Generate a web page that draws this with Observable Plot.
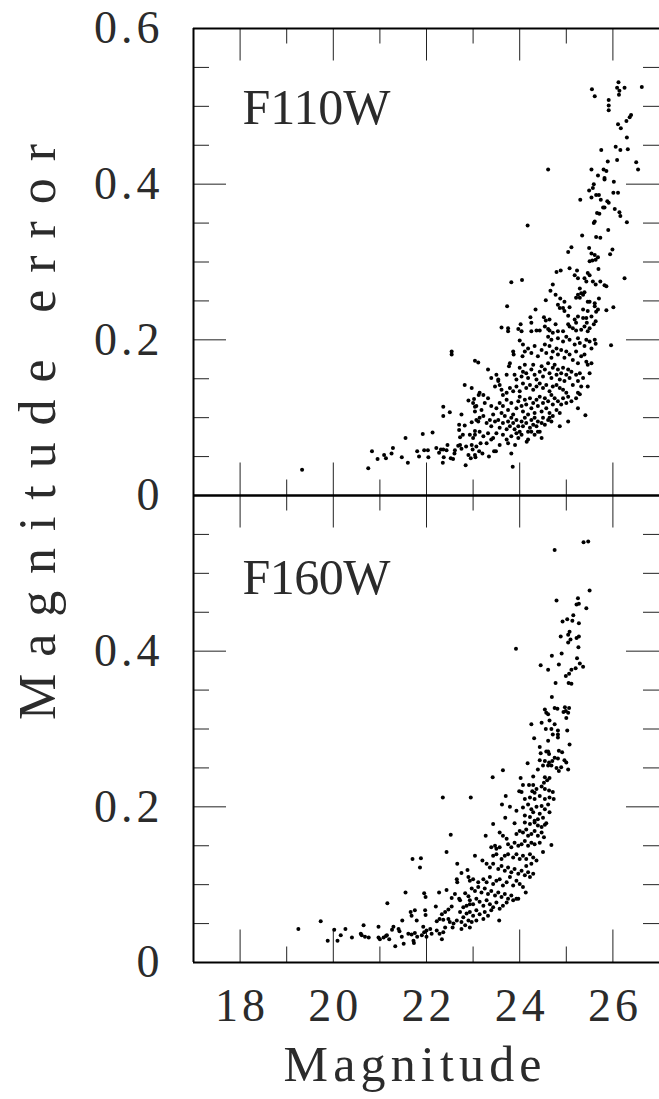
<!DOCTYPE html>
<html><head><meta charset="utf-8">
<script src="https://cdn.jsdelivr.net/npm/d3@7"></script>
<script src="https://cdn.jsdelivr.net/npm/@observablehq/plot@0.6"></script>
<style>
html,body{margin:0;padding:0;background:#fff;overflow:hidden}
svg text{letter-spacing:4px}
</style></head><body><div id="chart"></div>
<script>
const panels = ["F110W", "F160W"];
const xMajorTicks = [18, 20, 22, 24, 26];
const xMinorTicks = [19, 21, 23, 25];
const yMajorTicks = [0.2, 0.4];
const yMinorTicks = [0.05, 0.1, 0.15, 0.25, 0.3, 0.35, 0.45, 0.5, 0.55];
const xTickLabels = [18, 20, 22, 24, 26];
const yLabelsTop = [0.6, 0.4, 0.2, 0];
const yLabelsBottom = [0.4, 0.2, 0];

// F110W: [magnitude, magnitude error]
const f110w = [
[19.33,0.033],[20.75,0.035],[20.83,0.057],[20.95,0.047],[21.09,0.052],[21.13,0.048],[21.28,0.061],[21.25,0.054],[21.47,0.049],[21.55,0.074],[21.60,0.042],[21.80,0.057],[21.84,0.050],[21.95,0.058],[22.03,0.058],[22.04,0.049],[21.92,0.079],[22.13,0.081],[22.54,0.185],[22.54,0.181],[22.36,0.114],[22.36,0.102],[22.50,0.107],[22.70,0.091],[22.70,0.084],[22.75,0.104],[22.82,0.090],[22.72,0.075],[22.78,0.078],[23.04,0.173],[23.11,0.171],[22.82,0.142],[22.97,0.138],[22.90,0.122],[23.02,0.124],[23.04,0.114],[23.04,0.108],[22.97,0.094],[23.04,0.083],[23.04,0.078],[23.11,0.095],[23.12,0.129],
[22.21,0.061],[22.27,0.055],[22.35,0.042],[22.37,0.049],[22.31,0.059],[22.36,0.059],[22.43,0.058],[22.45,0.065],[22.52,0.048],[22.57,0.047],[22.60,0.054],[22.61,0.058],[22.68,0.064],[22.72,0.065],[22.75,0.060],[22.84,0.039],[22.85,0.063],[22.90,0.052],[22.95,0.048],[22.97,0.065],[22.99,0.059],[23.04,0.052],[23.05,0.049],[23.07,0.063],[23.13,0.057],[23.16,0.067],[23.20,0.054],[23.29,0.067],[23.34,0.050],[23.45,0.057],[23.49,0.057],[23.57,0.065],[23.75,0.067],[23.82,0.054],[23.85,0.037],[23.90,0.065],[24.15,0.069],
[24.61,0.204],[24.68,0.200],[24.82,0.202],[24.93,0.198],[25.00,0.204],[25.07,0.200],[25.18,0.194],[25.25,0.202],[25.29,0.196],[25.39,0.192],[25.43,0.200],[25.50,0.198],[25.54,0.189],[25.61,0.200],[25.63,0.195],[25.96,0.193],
[24.00,0.199],[24.07,0.194],[23.86,0.185],[23.87,0.181],[24.11,0.185],[24.06,0.179],[24.18,0.189],[24.25,0.183],[24.32,0.192],[24.39,0.179],[24.47,0.187],[24.54,0.194],[24.57,0.183],[24.64,0.192],[24.68,0.177],[24.71,0.185],[24.79,0.189],[24.82,0.181],[24.89,0.187],[24.96,0.177],[25.00,0.185],[25.07,0.181],[25.14,0.174],[25.21,0.185],[25.25,0.170],[25.32,0.179],[25.39,0.181],[25.43,0.172],[25.46,0.168],[25.54,0.170],[25.50,0.157],
[23.32,0.162],[23.39,0.151],[23.50,0.155],[23.54,0.149],[23.72,0.155],[23.77,0.166],[23.79,0.170],[23.89,0.155],[23.93,0.149],[24.00,0.164],[24.04,0.153],[24.07,0.159],[24.11,0.168],[24.14,0.157],[24.18,0.151],[24.25,0.162],[24.29,0.168],[24.32,0.155],[24.36,0.149],[24.43,0.159],[24.47,0.166],[24.50,0.153],[24.54,0.162],[24.61,0.170],[24.64,0.157],[24.68,0.151],[24.71,0.164],[24.75,0.168],[24.79,0.155],[24.82,0.162],[24.86,0.149],[24.89,0.157],[24.93,0.164],[24.96,0.147],[25.00,0.155],[25.04,0.162],[25.07,0.151],[25.11,0.159],[25.14,0.142],[25.21,0.155],[25.25,0.147],[25.29,0.157],[25.32,0.140],[25.36,0.151],
[25.46,0.140],[25.29,0.130],[25.25,0.132],[25.21,0.125],[25.11,0.121],[25.00,0.132],[25.04,0.127],[24.93,0.136],[24.86,0.138],[24.79,0.142],[24.71,0.140],[24.64,0.134],[24.57,0.142],[24.50,0.138],[24.43,0.144],[24.36,0.140],[24.29,0.136],[24.22,0.142],[24.14,0.138],[24.07,0.144],[24.00,0.134],[23.93,0.140],[23.86,0.134],[23.79,0.138],[23.72,0.132],[23.64,0.129],[23.61,0.136],[23.57,0.142],[23.54,0.147],[23.47,0.140],
[23.14,0.132],[23.22,0.129],[23.00,0.119],[23.07,0.115],[23.18,0.110],[23.25,0.119],[23.32,0.125],[23.39,0.115],[23.43,0.104],[23.50,0.112],[23.57,0.119],[23.61,0.106],[23.64,0.115],[23.72,0.123],[23.75,0.110],[23.82,0.119],[23.86,0.104],[23.93,0.112],[23.97,0.121],[24.00,0.127],[24.04,0.115],[24.07,0.108],[24.11,0.123],[24.14,0.117],[24.18,0.104],[24.22,0.125],[24.25,0.112],[24.29,0.119],[24.32,0.106],[24.36,0.123],[24.39,0.115],[24.43,0.127],[24.47,0.108],[24.50,0.119],[24.54,0.125],[24.57,0.112],[24.61,0.121],[24.64,0.106],[24.68,0.129],[24.71,0.117],[24.75,0.125],[24.79,0.110],[24.82,0.121],[24.86,0.106],[24.89,0.117],[24.93,0.125],[25.00,0.119],[25.25,0.112],[25.41,0.103],
[23.07,0.097],[23.14,0.100],[23.22,0.102],[23.29,0.093],[23.36,0.097],[23.39,0.089],[23.47,0.095],[23.54,0.097],[23.57,0.087],[23.64,0.093],[23.68,0.102],[23.72,0.085],[23.75,0.095],[23.79,0.089],[23.82,0.100],[23.86,0.093],[23.89,0.085],[23.93,0.097],[23.97,0.089],[24.00,0.082],[24.04,0.095],[24.07,0.089],[24.11,0.100],[24.14,0.093],[24.18,0.082],[24.22,0.087],[24.25,0.097],[24.29,0.091],[24.32,0.100],[24.36,0.089],[24.39,0.095],[24.43,0.082],[24.47,0.093],[24.50,0.100],[24.54,0.091],[24.61,0.097],[24.64,0.100],[24.68,0.095],[24.71,0.102],[24.86,0.089],[25.04,0.095],
[22.93,0.078],[23.00,0.074],[23.14,0.082],[23.22,0.076],[23.32,0.080],[23.39,0.072],[23.43,0.074],[23.50,0.080],[23.64,0.078],[23.72,0.072],[23.82,0.076],[23.93,0.080],[23.97,0.074],[24.04,0.078],[24.18,0.072],[24.25,0.082],[24.32,0.078],[24.39,0.082],[24.47,0.074],
[25.30,0.380],[25.54,0.383],[25.64,0.386],[25.70,0.386],[25.74,0.380],[25.88,0.378],[25.91,0.376],[26.01,0.389],[26.11,0.389],[25.79,0.370],[25.82,0.370],[26.04,0.368],[26.14,0.364],[26.16,0.359],[25.66,0.363],[25.71,0.362],[26.30,0.351],[25.59,0.350],[25.61,0.352],[24.17,0.347],[25.90,0.341],[25.34,0.334],[25.64,0.332],[25.73,0.331],[25.04,0.313],[25.11,0.319],[25.49,0.318],[25.54,0.311],[25.61,0.309],[25.68,0.306],[25.50,0.301],[25.56,0.302],[25.63,0.303],[25.94,0.310],[25.99,0.316],[25.07,0.292],[24.79,0.287],[24.88,0.289],[25.23,0.289],[25.46,0.286],[25.50,0.283],[25.69,0.291],[25.18,0.283],[25.25,0.279],[25.39,0.279],[25.43,0.275],[23.82,0.274],[24.05,0.277],[24.71,0.271],[25.57,0.275],[25.63,0.271],[25.73,0.275],[25.82,0.270],[25.86,0.269],[26.25,0.279],[24.66,0.263],[25.29,0.266],[25.32,0.260],[25.25,0.258],[25.36,0.258],[25.29,0.254],[25.21,0.254],[25.39,0.261],[24.77,0.258],[24.87,0.253],[24.96,0.249],[24.56,0.251],[25.46,0.249],[25.50,0.249],[25.61,0.247],[25.70,0.253],[23.73,0.243],[24.82,0.245],[24.86,0.241],[25.07,0.242],[24.34,0.239],[25.36,0.239],[25.46,0.237],[25.61,0.243],[25.68,0.239],[25.64,0.236],[25.86,0.238],[26.01,0.242],[24.96,0.237],[24.93,0.241],[25.04,0.231],[24.23,0.229],[24.25,0.222],[24.02,0.220],[24.52,0.229],[24.56,0.225],[24.64,0.226],[24.77,0.220],[25.04,0.220],[25.07,0.217],[25.18,0.226],[25.25,0.230],[25.21,0.222],[25.36,0.228],[25.43,0.228],[25.44,0.222],[25.54,0.230],[25.59,0.220],[25.63,0.224],[25.50,0.215],[25.46,0.211],[23.61,0.216],[23.75,0.215],[23.75,0.211],[23.97,0.214],[24.04,0.211],[24.25,0.211],[24.36,0.212],[24.43,0.212],[24.54,0.217],[24.61,0.214],[24.64,0.212],[24.71,0.209],[24.82,0.211],[24.93,0.211],[25.14,0.215],[25.21,0.212],[25.32,0.213],[25.39,0.217],
[26.12,0.531],[26.09,0.524],[26.14,0.520],[26.25,0.524],[26.13,0.515],[26.62,0.525],[25.55,0.522],[25.61,0.513],[25.91,0.508],[25.91,0.501],[25.91,0.495],[26.39,0.489],[26.36,0.486],[26.29,0.481],[26.11,0.477],[26.17,0.472],[26.30,0.460],[25.75,0.444],[26.06,0.448],[26.16,0.444],[26.32,0.445],[25.89,0.429],[26.09,0.431],[26.50,0.428],[26.54,0.419],[24.61,0.419],[25.54,0.419],[25.80,0.419],[25.86,0.417],[25.68,0.411],[25.82,0.408],[25.82,0.406],[26.02,0.403],[25.59,0.400],[25.57,0.395],[25.49,0.392]
];

// F160W: [magnitude, magnitude error]
const f160w = [
[22.52,0.164],[22.43,0.142],[21.70,0.133],[21.88,0.134],[21.86,0.122],[22.66,0.127],[22.88,0.119],[22.75,0.115],[22.65,0.107],[22.66,0.103],[22.90,0.110],[21.55,0.090],[21.95,0.089],[21.98,0.084],[22.27,0.090],[22.43,0.093],[22.54,0.083],[22.61,0.088],[22.72,0.080],[22.70,0.082],[22.83,0.089],[22.90,0.085],[21.16,0.076],[22.20,0.072],[22.54,0.072],[22.47,0.068],[22.40,0.065],[22.79,0.071],[22.86,0.073],[22.93,0.075],[22.72,0.065],[22.79,0.058],[22.86,0.063],[21.66,0.065],[21.75,0.067],[21.68,0.060],[21.97,0.067],[21.98,0.061],[21.79,0.054],[21.48,0.054],[22.33,0.062],[22.28,0.056],[22.22,0.053],[22.36,0.055],[22.47,0.056],[22.50,0.052],[22.58,0.050],[22.65,0.054],[22.56,0.045],[22.75,0.052],[22.83,0.048],[22.90,0.054],[22.75,0.043],[22.93,0.045],[20.65,0.048],[20.97,0.046],[21.29,0.046],[21.26,0.042],[21.40,0.043],[21.42,0.040],[21.93,0.046],[21.95,0.039],[22.00,0.041],[22.08,0.043],[22.22,0.041],[22.28,0.037],[22.36,0.039],[22.40,0.045],[21.61,0.037],[21.68,0.036],[21.75,0.038],[21.80,0.033],[21.72,0.028],[21.73,0.025],[21.47,0.033],[21.51,0.024],[21.33,0.021],[21.15,0.035],[21.08,0.032],[21.00,0.030],[20.97,0.032],[21.20,0.030],[21.13,0.034],[20.59,0.037],[20.61,0.035],[20.68,0.033],[20.76,0.032],[20.40,0.032],[20.26,0.043],[20.16,0.035],[20.09,0.028],[20.02,0.042],[19.88,0.028],[19.73,0.053],[19.25,0.043],[22.00,0.033],[21.90,0.035],[22.11,0.037],[22.33,0.030],
[23.43,0.178],[23.89,0.179],[24.11,0.180],[24.22,0.178],[24.32,0.180],[24.39,0.176],[24.47,0.174],[24.54,0.177],[24.57,0.179],[23.27,0.163],[23.57,0.167],[23.64,0.163],[23.72,0.159],[23.93,0.165],[24.00,0.169],[24.07,0.167],[24.14,0.171],[24.18,0.163],[24.25,0.165],[24.32,0.169],[24.39,0.163],[24.47,0.167],[24.52,0.161],[24.68,0.151],[23.39,0.148],[23.47,0.150],[23.50,0.146],[23.57,0.148],[23.75,0.152],[23.82,0.148],[23.89,0.154],[23.97,0.150],[24.04,0.152],[24.11,0.156],[24.18,0.150],[24.25,0.154],[24.32,0.152],[24.43,0.154],[24.50,0.142],[23.04,0.137],[23.43,0.137],[23.50,0.139],[23.61,0.133],[23.68,0.137],[23.75,0.139],[23.86,0.135],[23.93,0.139],[24.00,0.133],[24.07,0.137],[24.14,0.133],[24.22,0.139],[24.29,0.135],[24.36,0.131],[24.25,0.127],[24.14,0.124],[23.20,0.131],[23.29,0.127],[23.36,0.122],[23.43,0.127],[23.54,0.120],[23.61,0.124],[23.68,0.118],[23.75,0.122],[23.82,0.116],[23.89,0.120],[23.97,0.114],[24.04,0.118],[24.11,0.112],[24.18,0.116],[24.22,0.110],[24.29,0.114],[22.93,0.105],[23.00,0.107],[23.11,0.103],[23.22,0.107],[23.29,0.103],[23.36,0.110],[23.43,0.101],[23.50,0.105],[23.57,0.107],[23.64,0.099],[23.72,0.103],[23.79,0.110],[23.86,0.099],[23.93,0.105],[24.00,0.101],[24.07,0.097],[24.13,0.090],[23.97,0.082],[23.93,0.082],[22.97,0.095],[23.04,0.092],[23.11,0.097],[23.18,0.090],[23.25,0.095],[23.32,0.088],[23.39,0.092],[23.47,0.086],[23.54,0.090],[23.61,0.084],[23.68,0.088],[23.75,0.082],[23.82,0.086],[23.86,0.080],[23.72,0.077],[22.93,0.080],[23.00,0.075],[23.07,0.082],[23.14,0.078],[23.22,0.073],[23.29,0.080],[23.36,0.075],[23.43,0.071],[23.50,0.077],[23.57,0.069],[23.64,0.073],[23.39,0.067],[22.93,0.065],[23.00,0.060],[23.07,0.067],[23.14,0.062],[23.25,0.065],[23.32,0.060],[23.22,0.056],[23.07,0.054],[22.97,0.052],[23.56,0.054],
[24.77,0.359],[25.05,0.359],[25.11,0.358],[24.69,0.341],[24.75,0.327],[24.81,0.326],[24.97,0.328],[25.06,0.327],[24.99,0.323],[24.94,0.322],[25.04,0.321],[24.54,0.325],[24.57,0.321],[24.61,0.319],[24.47,0.308],[24.25,0.306],[24.64,0.311],[24.75,0.306],[24.68,0.300],[24.82,0.298],[24.82,0.293],[24.71,0.293],[24.82,0.289],[24.56,0.300],[25.02,0.298],[25.00,0.314],[24.31,0.288],[24.61,0.285],[25.07,0.280],[24.43,0.277],[24.45,0.269],[24.57,0.271],[24.63,0.268],[24.61,0.271],[24.84,0.272],[24.91,0.270],[24.43,0.260],[24.54,0.259],[24.63,0.257],[24.70,0.259],[24.75,0.263],[24.82,0.262],[24.96,0.260],[25.00,0.257],[24.50,0.253],[24.61,0.253],[24.68,0.253],[24.79,0.250],[24.84,0.246],[24.89,0.251],[25.04,0.248],[24.17,0.256],[24.39,0.248],[23.64,0.247],[23.42,0.238],[24.02,0.237],[24.29,0.239],[24.54,0.238],[24.59,0.234],[24.64,0.237],[24.52,0.231],[24.07,0.228],[24.20,0.228],[24.29,0.228],[24.36,0.223],[24.47,0.226],[24.54,0.223],[24.63,0.221],[24.71,0.219],[23.99,0.220],[24.27,0.220],[24.32,0.218],[24.04,0.219],[24.11,0.210],[24.22,0.212],[24.32,0.210],[24.43,0.214],[24.54,0.210],[24.64,0.212],[24.73,0.210],[23.70,0.214],[22.95,0.212],[22.35,0.212],[23.62,0.203],[23.79,0.200],[23.93,0.195],[24.07,0.199],[24.18,0.203],[24.25,0.197],[24.36,0.200],[24.47,0.201],[24.54,0.197],[24.61,0.203],[24.64,0.193],[24.43,0.191],[24.29,0.193],[24.22,0.187],[24.11,0.189],[24.32,0.182],[24.39,0.184],[24.50,0.186],[23.69,0.186],
[24.75,0.530],[25.37,0.540],[25.47,0.541],[25.50,0.478],[24.79,0.465],[25.25,0.468],[25.22,0.460],[25.27,0.461],[25.43,0.455],[25.15,0.446],[24.92,0.438],[25.02,0.441],[25.13,0.439],[25.27,0.436],[25.07,0.425],[25.04,0.421],[24.88,0.419],[25.09,0.415],[25.04,0.411],[25.22,0.417],[25.27,0.419],[23.92,0.403],[25.26,0.405],[24.90,0.397],[24.69,0.394],[25.23,0.391],[24.45,0.382],[24.84,0.383],[25.29,0.384],[25.36,0.380],[25.20,0.378],[25.11,0.376],[24.61,0.376],[25.06,0.371],[24.99,0.368]
];

const points = [
  ...f110w.map(([mag, err]) => ({band: "F110W", mag, err})),
  ...f160w.map(([mag, err]) => ({band: "F160W", mag, err}))
];

const W = 659, H = 1099, mL = 193, mR = 0, mT = 27, mB = 137;
const fw = W - mL - mR;
const fh = (H - mT - mB) / 2;
const majorLen = 33, minorLen = 16;
const font = "Liberation Serif";
const ink = "#2b2b2b";
const inTop = () => "F110W";
const inBottom = () => "F160W";

const chart = Plot.plot({
  width: W, height: H,
  marginLeft: mL, marginRight: mR, marginTop: mT, marginBottom: mB,
  style: {fontFamily: font, background: "#fff", color: "#000", overflow: "visible"},
  x: {domain: [17, 27], axis: null},
  y: {domain: [0, 0.6], axis: null},
  fy: {domain: panels, padding: 0, axis: null},
  marks: [
    Plot.ruleX(xMajorTicks, {x: d => d, insetTop: fh - majorLen, stroke: "#222", strokeWidth: 1}),
    Plot.ruleX(xMajorTicks, {x: d => d, insetBottom: fh - majorLen, stroke: "#222", strokeWidth: 1}),
    Plot.ruleX(xMinorTicks, {x: d => d, insetTop: fh - minorLen, stroke: "#222", strokeWidth: 1}),
    Plot.ruleX(xMinorTicks, {x: d => d, insetBottom: fh - minorLen, stroke: "#222", strokeWidth: 1}),
    Plot.ruleY(yMajorTicks, {y: d => d, insetRight: fw - majorLen, stroke: "#222", strokeWidth: 1}),
    Plot.ruleY(yMajorTicks, {y: d => d, insetLeft: fw - majorLen, stroke: "#222", strokeWidth: 1}),
    Plot.ruleY(yMinorTicks, {y: d => d, insetRight: fw - minorLen, stroke: "#222", strokeWidth: 1}),
    Plot.ruleY(yMinorTicks, {y: d => d, insetLeft: fw - minorLen, stroke: "#222", strokeWidth: 1}),
    Plot.ruleX([17], {x: d => d, stroke: "#000", strokeWidth: 2}),
    Plot.ruleY([0, 0.6], {y: d => d, stroke: "#000", strokeWidth: 2}),
    Plot.dot(points, {x: "mag", y: "err", fy: "band", r: 2, fill: "#000", stroke: null}),
    Plot.text(yLabelsTop, {x: 17, y: d => d, fy: inTop, text: d => String(d), dx: -30, textAnchor: "end", fontSize: 46, fill: ink}),
    Plot.text(yLabelsBottom, {x: 17, y: d => d, fy: inBottom, text: d => String(d), dx: -30, textAnchor: "end", fontSize: 46, fill: ink}),
    Plot.text(xTickLabels, {x: d => d, y: 0, fy: inBottom, text: d => String(d), dy: 44, dx: 2, fontSize: 46, fill: ink}),
    Plot.text(["Magnitude"], {fy: inBottom, frameAnchor: "bottom", dx: -12, dy: 118, fontSize: 50, fill: ink}),
    Plot.text(["Magnitude error"], {fy: inTop, frameAnchor: "left", textAnchor: "middle", dx: -155, dy: 168, rotate: -90, fontSize: 52, fill: ink}),
    Plot.text(["F110W"], {fy: inTop, frameAnchor: "top-left", textAnchor: "start", lineAnchor: "top", dx: 49, dy: 60, fontSize: 50, fill: ink}),
    Plot.text(["F160W"], {fy: inBottom, frameAnchor: "top-left", textAnchor: "start", lineAnchor: "top", dx: 49, dy: 63, fontSize: 50, fill: ink})
  ]
});

document.getElementById("chart").appendChild(chart);

d3.select(chart).selectAll("text").each(function () {
  const t = this.textContent;
  if (t === "Magnitude error") d3.select(this).attr("textLength", 580).attr("lengthAdjust", "spacing");
  if (t === "Magnitude") d3.select(this).attr("textLength", 262).attr("lengthAdjust", "spacing");
  if (t === "F110W" || t === "F160W") d3.select(this).attr("textLength", 152).attr("lengthAdjust", "spacing");
});
</script>
</body></html>
